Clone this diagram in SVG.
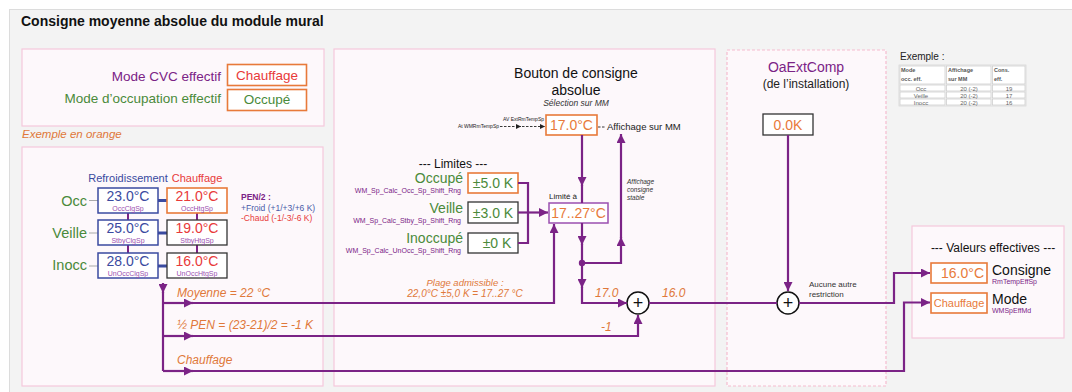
<svg xmlns="http://www.w3.org/2000/svg" width="1072" height="392" viewBox="0 0 1072 392">
<defs>
<marker id="arr" viewBox="0 0 10 10" refX="10" refY="5" markerWidth="9" markerHeight="9" markerUnits="userSpaceOnUse" orient="auto"><path d="M0,0 L10,5 L0,10 z" fill="#7b2386"/></marker>
<marker id="arrs" viewBox="0 0 10 10" refX="10" refY="5" markerWidth="5" markerHeight="5" markerUnits="userSpaceOnUse" orient="auto"><path d="M0,0 L10,5 L0,10 z" fill="#222"/></marker>
</defs>
<style>
text{font-family:"Liberation Sans",Arial,sans-serif}
.panel{fill:#fdf8fb;stroke:#f5c9dc;stroke-width:1.2}
.dpanel{fill:#fdf8fb;stroke:#f5bccf;stroke-width:1.2;stroke-dasharray:3 2}
.ln{fill:none;stroke:#7b2386;stroke-width:2.2}
.la{fill:none;stroke:#7b2386;stroke-width:2.2;marker-end:url(#arr)}
.obox{fill:#fff;stroke:#e87a3a;stroke-width:1.6}
.kbox{fill:#fff;stroke:#333;stroke-width:1.3}
.bbox{fill:#fff;stroke:#3a4aa0;stroke-width:1.5}
.pbox{fill:#fff;stroke:#9b4fb0;stroke-width:1.5}
.or{fill:#e87a3a}
.ori{fill:#e0783a;font-style:italic}
.rd{fill:#e83a3a}
.gr{fill:#4a8a3a}
.bl{fill:#3a4aa0}
.pu{fill:#7b2386}
.sm{fill:#9b4fb0;font-size:7px}
.val{font-size:14px;text-anchor:middle}
.mid{text-anchor:middle}
.end{text-anchor:end}
.tc{fill:#fff;stroke:#cfcfcf;stroke-width:0.8}
.th{font-size:5.5px;font-weight:bold;fill:#555}
.td{font-size:6px;fill:#666;text-anchor:middle}
</style>
<rect x="9.5" y="9.5" width="1070" height="390" fill="#f3f3f3" stroke="#dcdcdc"/>
<text x="21" y="26" font-size="14" font-weight="bold" fill="#111">Consigne moyenne absolue du module mural</text>

<g id="panel-modes">
<rect class="panel" x="22" y="49" width="302" height="77"/>
<text class="pu end" x="221" y="81" font-size="13.5">Mode CVC effectif</text>
<rect class="obox" x="227.5" y="64.5" width="79" height="21"/>
<text class="rd mid" x="267" y="80" font-size="13.5">Chauffage</text>
<text class="gr end" x="221" y="103" font-size="13.5">Mode d’occupation effectif</text>
<rect class="obox" x="227.5" y="89.5" width="79" height="21"/>
<text class="gr mid" x="267" y="104" font-size="13.5">Occupé</text>
</g>
<text class="ori" x="22" y="138" font-size="11.5">Exemple en orange</text>

<g id="panel-setpoints">
<rect class="panel" x="22" y="147" width="301" height="239"/>
<text class="bl mid" x="128" y="182" font-size="11">Refroidissement</text>
<text class="rd mid" x="197" y="182" font-size="11">Chauffage</text>
<text class="gr end" x="87" y="206" font-size="14.5">Occ</text>
<text class="gr end" x="87" y="238" font-size="14.5">Veille</text>
<text class="gr end" x="87" y="270" font-size="14.5">Inocc</text>
<path d="M89,200.5 H98 M89,233 H98 M89,266 H98" stroke="#aaa" stroke-width="1.2"/>
<path d="M128,213 V220 M128,245 V253 M197,213 V220 M197,245 V253" stroke="#7b2386" stroke-width="2"/>
<path d="M158,200.5 H167 M158,233 H167 M158,266 H167" stroke="#3a4aa0" stroke-width="3"/>
<g id="occ-clg"><rect class="bbox" x="98" y="188" width="60" height="25"/><text class="bl val" x="128" y="201">23.0°C</text><text class="sm mid" x="128" y="211">OccClgSp</text></g>
<g id="stby-clg"><rect class="bbox" x="98" y="220" width="60" height="25"/><text class="bl val" x="128" y="233">25.0°C</text><text class="sm mid" x="128" y="243">StbyClgSp</text></g>
<g id="unocc-clg"><rect class="bbox" x="98" y="253" width="60" height="25"/><text class="bl val" x="128" y="266">28.0°C</text><text class="sm mid" x="128" y="276">UnOccClgSp</text></g>
<g id="occ-htg"><rect class="obox" x="167" y="188" width="60" height="25"/><text class="rd val" x="197" y="201">21.0°C</text><text class="sm mid" x="197" y="211">OccHtgSp</text></g>
<g id="stby-htg"><rect class="kbox" x="167" y="220" width="60" height="25"/><text class="rd val" x="197" y="233">19.0°C</text><text class="sm mid" x="197" y="243">StbyHtgSp</text></g>
<g id="unocc-htg"><rect class="kbox" x="167" y="253" width="60" height="25"/><text class="rd val" x="197" y="266">16.0°C</text><text class="sm mid" x="197" y="276">UnOccHtgSp</text></g>
<text x="241" y="200" font-size="8.5" font-weight="bold" class="pu">PEN/2 :</text>
<text x="241" y="211" font-size="8.5" fill="#4a5aa8">+Froid (+1/+3/+6 K)</text>
<text x="241" y="221" font-size="8.5" class="rd">-Chaud (-1/-3/-6 K)</text>
<text class="ori" x="177" y="297" font-size="12">Moyenne = 22 °C</text>
<text class="ori" x="177" y="329" font-size="12">½ PEN = (23-21)/2 = -1 K</text>
<text class="ori" x="177" y="364" font-size="12">Chauffage</text>
</g>

<g id="panel-button">
<rect class="panel" x="334" y="49" width="381" height="337"/>
<text class="mid" x="576" y="78" font-size="14" fill="#111">Bouton de consigne</text>
<text class="mid" x="576" y="95" font-size="14" fill="#111">absolue</text>
<text class="mid" x="576" y="106" font-size="8.5" font-style="italic" fill="#333">Sélection sur MM</text>
<text class="end" x="499" y="128" font-size="5" fill="#222">At WMRmTempSp</text>
<text class="end" x="544" y="121" font-size="5" fill="#222">AV ExtRmTempSp</text>
<path d="M500,126.5 H521" stroke="#222" stroke-width="0.9" stroke-dasharray="2.5 1.5" marker-end="url(#arrs)"/>
<path d="M522,126.5 H545" stroke="#222" stroke-width="0.9" stroke-dasharray="2.5 1.5" marker-end="url(#arrs)"/>
<path d="M598,127 H606" stroke="#222" stroke-width="0.9" stroke-dasharray="2.5 1.5"/>
<text x="607" y="130" font-size="9.5" fill="#222">Affichage sur MM</text>
<g id="mm-setpoint"><rect class="obox" x="546" y="115" width="51" height="20"/><text class="or val" x="571.5" y="130">17.0°C</text></g>
<text class="mid" x="453" y="168" font-size="12" fill="#111">--- Limites ---</text>
<text class="gr end" x="463" y="183" font-size="14">Occupé</text>
<text class="gr end" x="463" y="213" font-size="14">Veille</text>
<text class="gr end" x="463" y="243" font-size="14">Inoccupé</text>
<text class="pu end" x="461" y="193" font-size="7">WM_Sp_Calc_Occ_Sp_Shift_Rng</text>
<text class="pu end" x="461" y="223" font-size="7">WM_Sp_Calc_Stby_Sp_Shift_Rng</text>
<text class="pu end" x="461" y="253" font-size="7">WM_Sp_Calc_UnOcc_Sp_Shift_Rng</text>
<g id="lim-occ"><rect class="obox" x="468" y="173" width="50" height="20"/><text class="gr val" x="493" y="188">±5.0 K</text></g>
<g id="lim-stby"><rect class="kbox" x="468" y="202" width="50" height="21"/><text class="gr val" x="493" y="217.5">±3.0 K</text></g>
<g id="lim-unocc"><rect class="kbox" x="468" y="233" width="50" height="20"/><text class="gr val" x="497" y="248">±0 K</text></g>
<text x="549" y="199" font-size="8" fill="#222">Limité à</text>
<g id="limited"><rect class="pbox" x="549" y="203" width="59" height="20"/><text class="or val" x="578.5" y="218">17..27°C</text></g>
<text x="627" y="184" font-size="6.5" font-style="italic" fill="#333">Affichage</text>
<text x="627" y="192" font-size="6.5" font-style="italic" fill="#333">consigne</text>
<text x="627" y="200" font-size="6.5" font-style="italic" fill="#333">stable</text>
<text class="ori mid" x="465" y="286" font-size="9.5">Plage admissible :</text>
<text class="ori mid" x="465" y="297" font-size="10">22,0°C ±5,0 K = 17..27 °C</text>
<text class="ori" x="595" y="297" font-size="12">17.0</text>
<text class="ori" x="662" y="297" font-size="12">16.0</text>
<text class="ori" x="601" y="331" font-size="12">-1</text>
</g>

<g id="panel-oaext">
<rect class="dpanel" x="727" y="50" width="159" height="336"/>
<text class="pu mid" x="806" y="72" font-size="14">OaExtComp</text>
<text class="mid" x="806" y="88" font-size="12" fill="#222">(de l’installation)</text>
<g id="oaext-val"><rect class="kbox" x="763" y="114" width="50" height="21"/><text class="or mid" x="788" y="130" font-size="14">0.0K</text></g>
<text x="809" y="287" font-size="8" fill="#333">Aucune autre</text>
<text x="809" y="297" font-size="8" fill="#333">restriction</text>
</g>

<g id="example-table">
<text x="900" y="60" font-size="10" fill="#222">Exemple :</text>
<rect x="899" y="65" width="127" height="41" fill="#f7f7f7" stroke="#d6d6d6" stroke-width="0.8"/>
<rect class="tc" x="900" y="66" width="45" height="18"/><rect class="tc" x="946.5" y="66" width="44.5" height="18"/><rect class="tc" x="992.5" y="66" width="32.5" height="18"/>
<rect class="tc" x="900" y="85" width="45" height="6"/><rect class="tc" x="946.5" y="85" width="44.5" height="6"/><rect class="tc" x="992.5" y="85" width="32.5" height="6"/>
<rect class="tc" x="900" y="92" width="45" height="6"/><rect class="tc" x="946.5" y="92" width="44.5" height="6"/><rect class="tc" x="992.5" y="92" width="32.5" height="6"/>
<rect class="tc" x="900" y="99" width="45" height="6"/><rect class="tc" x="946.5" y="99" width="44.5" height="6"/><rect class="tc" x="992.5" y="99" width="32.5" height="6"/>
<text class="th" x="901" y="72">Mode</text><text class="th" x="901" y="81">occ. eff.</text>
<text class="th" x="948" y="72">Affichage</text><text class="th" x="948" y="81">sur MM</text>
<text class="th" x="994" y="72">Cons.</text><text class="th" x="994" y="81">eff.</text>
<text class="td" x="921" y="90.5">Occ</text><text class="td" x="969" y="90.5">20 (-2)</text><text class="td" x="1009" y="90.5">19</text>
<text class="td" x="921" y="97.5">Veille</text><text class="td" x="969" y="97.5">20 (-2)</text><text class="td" x="1009" y="97.5">17</text>
<text class="td" x="921" y="104.5">Inocc</text><text class="td" x="969" y="104.5">20 (-2)</text><text class="td" x="1009" y="104.5">16</text>
</g>

<g id="panel-effective">
<rect class="panel" x="912" y="226" width="152" height="112"/>
<text class="mid" x="993" y="252" font-size="12" fill="#111">--- Valeurs effectives ---</text>
<g id="eff-sp"><rect class="obox" x="931" y="263" width="56" height="20"/><text class="or" x="984" y="278" font-size="14" text-anchor="end">16.0°C</text></g>
<text x="992" y="275" font-size="14" fill="#111">Consigne</text>
<text class="pu" x="992" y="284" font-size="7">RmTempEffSp</text>
<g id="eff-mode"><rect class="obox" x="931" y="293" width="56" height="20"/><text class="or mid" x="959" y="307" font-size="11">Chauffage</text></g>
<text x="992" y="304" font-size="14" fill="#111">Mode</text>
<text class="pu" x="992" y="313" font-size="7">WMSpEffMd</text>
</g>

<g id="sum1"><circle cx="638" cy="303" r="11" fill="#fff" stroke="#111" stroke-width="1.5"/><text class="mid" x="638" y="309" font-size="18" fill="#111">+</text></g>
<g id="sum2"><circle cx="788" cy="303" r="11" fill="#fff" stroke="#111" stroke-width="1.5"/><text class="mid" x="788" y="309" font-size="18" fill="#111">+</text></g>

<g id="connectors">
<path class="la" d="M163,283 V293"/>
<path class="ln" d="M163,292 V371"/>
<path class="la" d="M163,303 H193"/>
<path class="la" d="M192,303 H554 V224"/>
<path class="la" d="M163,336 H193"/>
<path class="la" d="M192,336 H638 V315"/>
<path class="la" d="M163,371 H193"/>
<path class="la" d="M192,371 H904 V302.5 H930"/>
<path class="ln" d="M518,183 H528 V243 H518"/>
<path class="la" d="M518,212.5 H548"/>
<path class="la" d="M582,135 V186"/>
<path class="ln" d="M582,185 V203"/>
<path class="la" d="M582,223 V245"/>
<path class="ln" d="M582,244 V263"/>
<path class="la" d="M582,263 V288"/>
<path class="la" d="M582,287 V303 H627"/>
<path class="la" d="M582,263 H621 V237"/>
<path class="la" d="M621,238 V134"/>
<path class="ln" d="M649,303 H777"/>
<path class="la" d="M788,135 V291"/>
<path class="la" d="M799,303 H894 V273 H930"/>
<circle cx="582" cy="263" r="3.2" fill="#7b2386"/>
</g>
</svg>
